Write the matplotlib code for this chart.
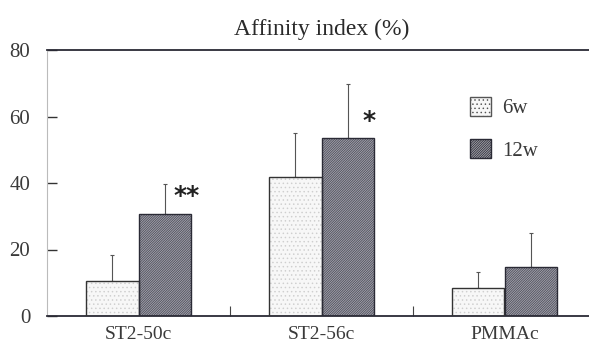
import matplotlib
matplotlib.use("Agg")
import matplotlib.pyplot as plt
import numpy as np
from matplotlib.patches import Patch

plt.rcParams['font.family'] = ['Liberation Serif', 'DejaVu Serif']
plt.rcParams['hatch.linewidth'] = 0.55

# Data
categories = ["ST2-50c", "ST2-56c", "PMMAc"]
series = ["6w", "12w"]
mean_6w = [10.6, 41.8, 8.5]
mean_12w = [30.8, 53.4, 14.6]
sd_6w = [7.6, 13.1, 4.6]
sd_12w = [9.0, 16.5, 10.4]
marks_12w = ["**", "*", ""]
yticks = [0, 20, 40, 60, 80]

fig = plt.figure(figsize=(5.89, 3.47), dpi=100)
W, H = 589, 347
ax = fig.add_axes([47 / W, 31 / H, 549 / W, 266 / H])

x = np.arange(len(categories))
bw = 0.285
text_col = "#3a3a3a"
hatch_12w = "/" * 14

# 6w bars: pale fill with a fine dotted texture
ax.bar(x - bw / 2, mean_6w, bw, color="#f7f7f7", edgecolor="#cfcfcf",
       hatch="....", linewidth=0, zorder=2)
ax.bar(x - bw / 2, mean_6w, bw, fill=False, edgecolor="#333333",
       linewidth=1.0, zorder=3)
# 12w bars: grey fill with dense diagonal hatching
ax.bar(x + bw / 2, mean_12w, bw, color="#a4a4ac", edgecolor="#4a4a58",
       hatch=hatch_12w, linewidth=0, zorder=2)
ax.bar(x + bw / 2, mean_12w, bw, fill=False, edgecolor="#2a2a35",
       linewidth=1.0, zorder=3)

# one-sided error bars
ax.errorbar(x - bw / 2, mean_6w, yerr=[np.zeros(3), sd_6w], fmt="none",
            ecolor="#555555", elinewidth=0.8, capsize=1.5, capthick=0.8, zorder=1)
ax.errorbar(x + bw / 2, mean_12w, yerr=[np.zeros(3), sd_12w], fmt="none",
            ecolor="#555555", elinewidth=0.8, capsize=1.5, capthick=0.8, zorder=1)

# significance marks
for xi, m, s, mk in zip(x, mean_12w, sd_12w, marks_12w):
    if mk:
        ax.text(xi + bw / 2 + 0.12, m + 5.3, mk, ha="center", va="center",
                fontsize=18, fontweight="bold", family="DejaVu Sans",
                color="#222222")

ax.set_xlim(-0.5, 2.5)
ax.set_ylim(0, 80)
ax.set_yticks(yticks)
ax.set_yticklabels([str(v) for v in yticks])
ax.set_xticks(x)
ax.set_xticklabels(categories)
ax.set_xticks([0.5, 1.5], minor=True)
ax.tick_params(axis="x", which="major", length=0, pad=7, labelsize=14,
               labelcolor=text_col)
ax.tick_params(axis="x", which="minor", direction="in", length=7,
               width=0.8, color="#444444")
ax.tick_params(axis="y", direction="in", length=7, width=1.0,
               color="#333333", pad=12, labelsize=15, labelcolor=text_col)

for side in ["top", "bottom"]:
    ax.spines[side].set_color("#2a2a35")
    ax.spines[side].set_linewidth(1.3)
ax.spines["left"].set_color("#bbbbbb")
ax.spines["left"].set_linewidth(0.8)
ax.spines["right"].set_visible(False)

ax.set_title("Affinity index (%)", fontsize=17, color="#2a2a2a", pad=11)

handles = [
    Patch(facecolor="#f7f7f7", edgecolor="#555555", hatch="....", linewidth=1.0),
    Patch(facecolor="#a4a4ac", edgecolor="#2a2a35", hatch=hatch_12w, linewidth=1.0),
]
leg = ax.legend(handles, series, loc="upper left",
                bbox_to_anchor=((470 - 47) / 549, (316 - 97) / 266),
                frameon=False, fontsize=15, handlelength=1.0, handleheight=1.0,
                labelspacing=1.0, handletextpad=0.55, borderpad=0,
                borderaxespad=0)
for t in leg.get_texts():
    t.set_color(text_col)

fig.savefig("out.png", dpi=100)
